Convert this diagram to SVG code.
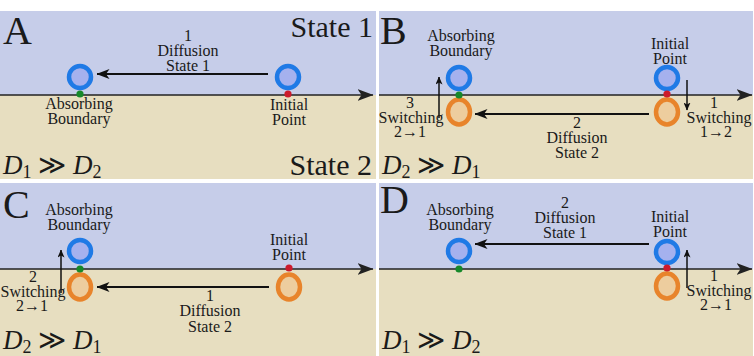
<svg xmlns="http://www.w3.org/2000/svg" width="754" height="356" viewBox="0 0 754 356" font-family="Liberation Serif, serif">
<defs>
<style>
.sky{fill:#c6cde9}
.sand{fill:#e7dec0}
.axis{stroke:#222;stroke-width:1.6;fill:none}
.arr{stroke:#111;stroke-width:2.2;fill:none}
.sw{stroke:#111;stroke-width:1.5;fill:none}
.b{fill:#a5b1ee;stroke:#1f7ae6;stroke-width:4.5}
.o{fill:#edcd9e;stroke:#e8842b;stroke-width:4.5}
.g{fill:#17892a}
.r{fill:#cc1b2c}
text{font-family:'Liberation Serif','DejaVu Serif',serif;fill:#1a1a1a}
.lbl{font-size:16px;text-anchor:middle}
.big{font-size:40px}
.st{font-size:30px}
.eq{font-size:27px;font-style:italic}
.sub{font-size:18px;font-style:normal}
.op{font-style:normal}
</style>
<marker id="ax" markerUnits="userSpaceOnUse" markerWidth="16" markerHeight="12" viewBox="0 0 16 12" refX="15.5" refY="6" orient="auto"><path d="M0,0 L16,6 L0,12 L4,6 z" fill="#222"/></marker>
<marker id="ah" markerUnits="userSpaceOnUse" markerWidth="13" markerHeight="10" viewBox="0 0 13 10" refX="12.5" refY="5" orient="auto"><path d="M0,0 L13,5 L0,10 L3.5,5 z" fill="#111"/></marker>
<marker id="sh" markerUnits="userSpaceOnUse" markerWidth="8" markerHeight="7" viewBox="0 0 8 7" refX="7.5" refY="3.5" orient="auto"><path d="M0,0 L8,3.5 L0,7 L2,3.5 z" fill="#111"/></marker>
</defs>
<rect x="0" y="0" width="754" height="356" fill="#ffffff"/>

<!-- Panel backgrounds -->
<g id="backgrounds">
<rect class="sky" x="0" y="11" width="376" height="84"/>
<rect class="sand" x="0" y="95" width="376" height="84"/>
<rect class="sky" x="379" y="11" width="374" height="84"/>
<rect class="sand" x="379" y="95" width="374" height="84"/>
<rect class="sky" x="0" y="183" width="376" height="86"/>
<rect class="sand" x="0" y="269" width="376" height="87"/>
<rect class="sky" x="379" y="183" width="374" height="86"/>
<rect class="sand" x="379" y="269" width="374" height="87"/>
</g>

<!-- Connectors -->
<g id="connectors">
<line class="axis" x1="0" y1="95" x2="373" y2="95" marker-end="url(#ax)"/>
<line class="axis" x1="379" y1="95" x2="752" y2="95" marker-end="url(#ax)"/>
<line class="axis" x1="0" y1="269" x2="373" y2="269" marker-end="url(#ax)"/>
<line class="axis" x1="379" y1="269" x2="752" y2="269" marker-end="url(#ax)"/>
<line class="arr" x1="268" y1="74" x2="97" y2="74" marker-end="url(#ah)"/>
<line class="arr" x1="649" y1="114" x2="475" y2="114" marker-end="url(#ah)"/>
<line class="sw" x1="439" y1="118" x2="439" y2="77" marker-end="url(#sh)"/>
<line class="sw" x1="687" y1="80" x2="687" y2="110" marker-end="url(#sh)"/>
<line class="arr" x1="269" y1="287" x2="97" y2="287" marker-end="url(#ah)"/>
<line class="sw" x1="61" y1="293" x2="61" y2="250" marker-end="url(#sh)"/>
<line class="arr" x1="649" y1="244" x2="475" y2="244" marker-end="url(#ah)"/>
<line class="sw" x1="687" y1="288" x2="687" y2="250" marker-end="url(#sh)"/>
</g>

<!-- Panel A -->
<g id="panelA">
<text class="big" x="3" y="44">A</text>
<text class="st" x="373" y="37" text-anchor="end">State 1</text>
<text class="st" x="372" y="175" text-anchor="end">State 2</text>
<text class="eq" x="3" y="174">D<tspan class="sub" dy="4">1</tspan><tspan class="op" dy="-4"> ≫ </tspan>D<tspan class="sub" dy="4">2</tspan></text>
<text class="lbl" x="188" y="41">1</text>
<text class="lbl" x="188" y="56">Diffusion</text>
<text class="lbl" x="188" y="71">State 1</text>
<g id="A_absorbing">
<circle class="b" cx="80" cy="77" r="11"/>
<circle class="g" cx="80" cy="94" r="3.6"/>
<text class="lbl" x="79" y="109">Absorbing</text>
<text class="lbl" x="79" y="124">Boundary</text>
</g>
<g id="A_initial">
<circle class="b" cx="288" cy="77" r="11"/>
<circle class="r" cx="288" cy="94" r="3.6"/>
<text class="lbl" x="289" y="110">Initial</text>
<text class="lbl" x="289" y="125">Point</text>
</g>
</g>

<!-- Panel B -->
<g id="panelB">
<text class="big" x="380" y="44">B</text>
<text class="eq" x="382" y="174">D<tspan class="sub" dy="4">2</tspan><tspan class="op" dy="-4"> ≫ </tspan>D<tspan class="sub" dy="4">1</tspan></text>
<text class="lbl" x="577" y="128">2</text>
<text class="lbl" x="577" y="143">Diffusion</text>
<text class="lbl" x="577" y="158">State 2</text>
<text class="lbl" x="410" y="108">3</text>
<text class="lbl" x="411" y="123">Switching</text>
<text class="lbl" x="410" y="137">2→1</text>
<text class="lbl" x="714" y="108">1</text>
<text class="lbl" x="719" y="123">Switching</text>
<text class="lbl" x="716" y="137">1→2</text>
<g id="B_absorbing">
<circle class="b" cx="459" cy="78" r="11"/>
<ellipse class="o" cx="459" cy="112" rx="11" ry="12.5"/>
<circle class="g" cx="459" cy="95" r="3.6"/>
<text class="lbl" x="461" y="41">Absorbing</text>
<text class="lbl" x="461" y="56">Boundary</text>
</g>
<g id="B_initial">
<circle class="b" cx="667" cy="78" r="11"/>
<ellipse class="o" cx="667" cy="112" rx="11" ry="12.5"/>
<circle class="r" cx="667" cy="94" r="3.6"/>
<text class="lbl" x="670" y="49">Initial</text>
<text class="lbl" x="670" y="64">Point</text>
</g>
</g>

<!-- Panel C -->
<g id="panelC">
<text class="big" x="3" y="218">C</text>
<text class="eq" x="3" y="349">D<tspan class="sub" dy="4">2</tspan><tspan class="op" dy="-4"> ≫ </tspan>D<tspan class="sub" dy="4">1</tspan></text>
<text class="lbl" x="210" y="301">1</text>
<text class="lbl" x="210" y="316">Diffusion</text>
<text class="lbl" x="210" y="332">State 2</text>
<text class="lbl" x="33" y="282">2</text>
<text class="lbl" x="33" y="297">Switching</text>
<text class="lbl" x="32" y="311">2→1</text>
<g id="C_absorbing">
<circle class="b" cx="80" cy="251" r="11"/>
<ellipse class="o" cx="80" cy="287" rx="11" ry="12.5"/>
<circle class="g" cx="80" cy="269" r="3.6"/>
<text class="lbl" x="79" y="215">Absorbing</text>
<text class="lbl" x="79" y="230">Boundary</text>
</g>
<g id="C_initial">
<ellipse class="o" cx="289" cy="287" rx="11" ry="12.5"/>
<circle class="r" cx="289" cy="268" r="3.6"/>
<text class="lbl" x="289" y="245">Initial</text>
<text class="lbl" x="289" y="260">Point</text>
</g>
</g>

<!-- Panel D -->
<g id="panelD">
<text class="big" x="380" y="213">D</text>
<text class="eq" x="382" y="349">D<tspan class="sub" dy="4">1</tspan><tspan class="op" dy="-4"> ≫ </tspan>D<tspan class="sub" dy="4">2</tspan></text>
<text class="lbl" x="565" y="208">2</text>
<text class="lbl" x="565" y="223">Diffusion</text>
<text class="lbl" x="565" y="238">State 1</text>
<text class="lbl" x="714" y="281">1</text>
<text class="lbl" x="719" y="296">Switching</text>
<text class="lbl" x="716" y="310">2→1</text>
<g id="D_absorbing">
<circle class="b" cx="459" cy="251" r="11"/>
<circle class="g" cx="459" cy="269" r="3.6"/>
<text class="lbl" x="460" y="215">Absorbing</text>
<text class="lbl" x="460" y="230">Boundary</text>
</g>
<g id="D_initial">
<circle class="b" cx="667" cy="252" r="11"/>
<ellipse class="o" cx="667" cy="286" rx="11" ry="12.5"/>
<circle class="r" cx="667" cy="268" r="3.6"/>
<text class="lbl" x="670" y="222">Initial</text>
<text class="lbl" x="670" y="237">Point</text>
</g>
</g>
</svg>
